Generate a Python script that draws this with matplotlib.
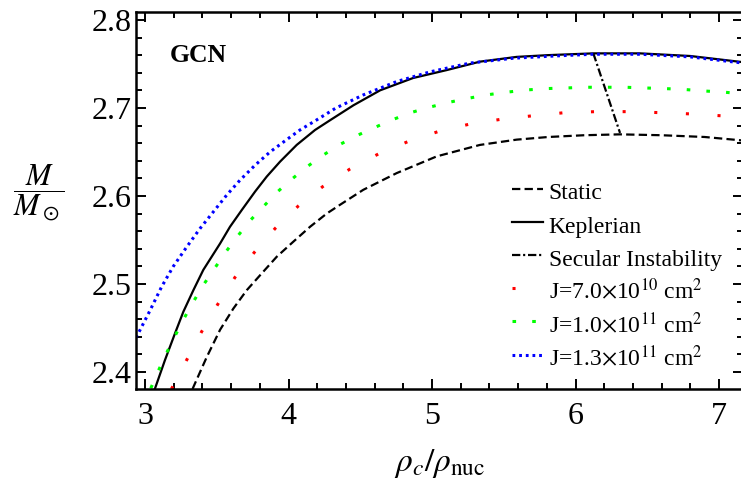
import matplotlib
matplotlib.use("Agg")
import matplotlib.pyplot as plt

plt.rcParams['font.family'] = ['Liberation Serif', 'DejaVu Serif']
plt.rcParams['mathtext.fontset'] = 'stix'

# ---- data ----
rho_static = [3.331, 3.348, 3.430, 3.523, 3.615, 3.709, 3.813, 3.918, 4.033, 4.150, 4.266, 4.359, 4.521,
              4.754, 5.033, 5.334, 5.590, 5.810, 6.060, 6.310, 6.600, 6.900, 7.167]
M_static = [2.3807, 2.387, 2.417, 2.448, 2.472, 2.493, 2.512, 2.531, 2.548, 2.565, 2.580, 2.590, 2.607,
            2.626, 2.645, 2.658, 2.664, 2.667, 2.669, 2.670, 2.669, 2.667, 2.663]

rho_kep = [3.068, 3.070, 3.139, 3.209, 3.267, 3.337, 3.406, 3.523, 3.592, 3.674, 3.767, 3.848, 3.941, 4.057,
           4.185, 4.289, 4.452, 4.638, 4.868, 5.102, 5.334, 5.590, 5.810, 6.124, 6.450, 6.800, 7.167]
M_kep = [2.3807, 2.3815, 2.4136, 2.444, 2.4685, 2.493, 2.516, 2.546, 2.565, 2.584, 2.605, 2.622, 2.639, 2.658,
         2.675, 2.686, 2.703, 2.720, 2.734, 2.743, 2.7526, 2.758, 2.760, 2.762, 2.762, 2.759, 2.752]

rho_sec = [6.124, 6.310]
M_sec = [2.762, 2.6716]

rho_j70 = [3.184, 3.290, 3.395, 3.507, 3.627, 3.762, 3.906, 4.068, 4.238, 4.429, 4.626, 4.831, 5.040, 5.258,
           5.476, 5.695, 5.915, 6.141, 6.361, 6.582, 6.805, 7.026, 7.167]
M_j70 = [2.3807, 2.4136, 2.446, 2.477, 2.5076, 2.536, 2.563, 2.5886, 2.6106, 2.6307, 2.6477, 2.6617, 2.673,
         2.6815, 2.687, 2.691, 2.6945, 2.6958, 2.6958, 2.6947, 2.6932, 2.691, 2.689]

rho_j10 = [3.040, 3.093, 3.151, 3.209, 3.272, 3.341, 3.411, 3.488, 3.564, 3.646, 3.732, 3.825, 3.918, 4.022,
           4.127, 4.238, 4.352, 4.475, 4.603, 4.730, 4.859, 4.986, 5.121, 5.253, 5.388, 5.525, 5.664, 5.799,
           5.934, 6.073, 6.210, 6.347, 6.484, 6.622, 6.758, 6.895, 7.030, 7.167]
M_j10 = [2.3815, 2.4015, 2.422, 2.441, 2.461, 2.481, 2.500, 2.5185, 2.5367, 2.5545, 2.572, 2.588, 2.604, 2.619,
         2.633, 2.646, 2.658, 2.6685, 2.678, 2.687, 2.695, 2.701, 2.7065, 2.711, 2.715, 2.718, 2.7205, 2.722,
         2.7227, 2.7235, 2.7235, 2.7235, 2.7227, 2.722, 2.721, 2.7193, 2.718, 2.716]

rho_j13 = [2.937, 2.965, 3.035, 3.116, 3.197, 3.290, 3.383, 3.476, 3.569, 3.662, 3.767, 3.871, 3.987, 4.080,
           4.192, 4.331, 4.521, 4.754, 4.986, 5.265, 5.567, 5.850, 6.120, 6.450, 6.800, 7.167]
M_j13 = [2.439, 2.4477, 2.470, 2.497, 2.520, 2.542, 2.563, 2.582, 2.601, 2.618, 2.635, 2.650, 2.664, 2.675,
         2.686, 2.700, 2.7148, 2.730, 2.741, 2.751, 2.7565, 2.759, 2.761, 2.761, 2.758, 2.751]

labels = ["Static", "Keplerian", "Secular Instability",
          r"J=7.0$\times$10$^{10}$ cm$^{2}$",
          r"J=1.0$\times$10$^{11}$ cm$^{2}$",
          r"J=1.3$\times$10$^{11}$ cm$^{2}$"]
xticks = [3, 4, 5, 6, 7]
yticks = [2.4, 2.5, 2.6, 2.7, 2.8]

W, H = 741, 487
fig = plt.figure(figsize=(W / 100, H / 100), dpi=100)
ax = fig.add_axes([136 / W, (H - 389) / H, (743 - 136) / W, (389 - 12) / H])

ax.plot(rho_static, M_static, color='black', lw=1.6, linestyle=(0, (3.75, 1.9)), label=labels[0])
ax.plot(rho_kep, M_kep, color='black', lw=1.6, linestyle='-', label=labels[1])
ax.plot(rho_sec, M_sec, color='black', lw=1.6, linestyle=(0, (3.75, 1.25, 0.95, 1.25)), label=labels[2])
ax.plot(rho_j70, M_j70, color='#ff0000', lw=2.2, linestyle=(0, (1.0, 9.36)), label=labels[3])
ax.plot(rho_j10, M_j10, color='#00ff00', lw=2.2, linestyle=(0, (1.18, 5.27)), label=labels[4])
ax.plot(rho_j13, M_j13, color='#0000ff', lw=2.2, linestyle=(0, (0.91, 1.27)), label=labels[5])

ax.set_xticks(xticks)
ax.set_yticks(yticks)
ax.set_xticklabels([str(v) for v in xticks])
ax.set_yticklabels([f"{v:.1f}" for v in yticks])
ax.set_xticks([x / 10 for x in range(30, 72, 2)], minor=True)
ax.set_yticks([y / 100 for y in range(240, 282, 2)], minor=True)
ax.set_xlim(2.937, 7.167)
ax.set_ylim(2.3807, 2.809)
ax.tick_params(which='both', direction='in', bottom=True, top=True, left=True, right=True,
               width=1.4, color='black')
ax.tick_params(which='major', length=7, labelsize=23)
ax.tick_params(which='minor', length=4)
ax.tick_params(axis='x', which='major', pad=9)
ax.tick_params(axis='y', which='major', pad=3)
for s in ax.spines.values():
    s.set_linewidth(1.8)

fig.text(170 / W, 1 - 56 / H, "GCN", fontsize=18.5, fontweight='bold', va='center', ha='left')

fig.text(440 / W, 1 - 463 / H, r"$\rho_c/\rho_{\rm nuc}$", fontsize=24, ha='center', va='center')
fig.text(39 / W, 1 - 193 / H, r"$\dfrac{M}{M_\odot}$", fontsize=22, ha='center', va='center')

leg = ax.legend(loc='upper left', bbox_to_anchor=(512 / W, 1 - 178 / H), bbox_transform=fig.transFigure,
                frameon=False, fontsize=17, handlelength=1.3, handletextpad=0.25, handleheight=1.4,
                labelspacing=0.25, borderpad=0, borderaxespad=0)

fig.savefig("out.png", dpi=100)
